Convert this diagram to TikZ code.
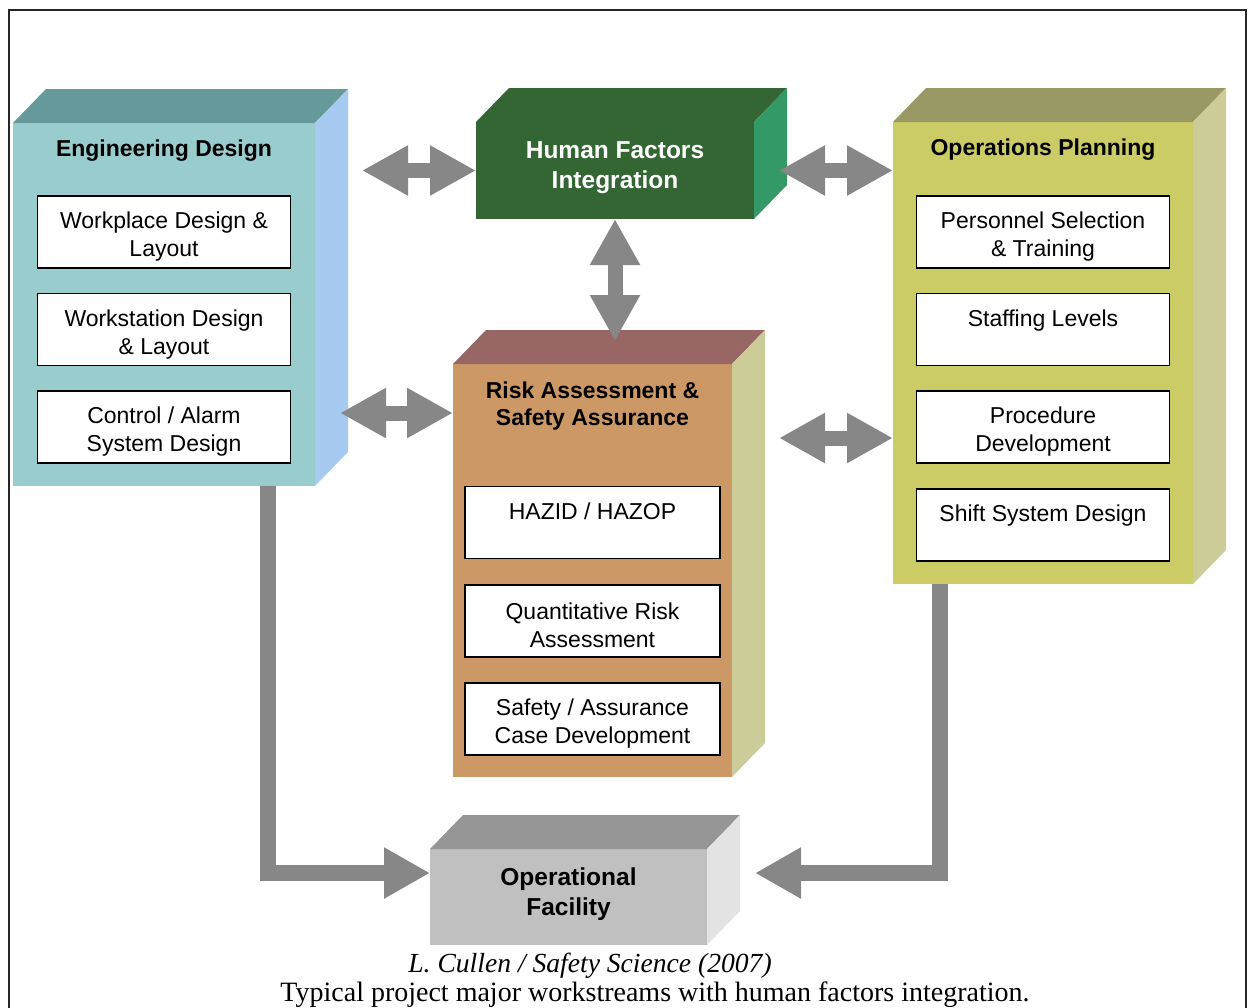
\documentclass[tikz,border=0pt]{standalone}
\usepackage{fontspec}
\setmainfont{Liberation Sans}
\newfontfamily\capfont{Liberation Serif}
\usetikzlibrary{positioning, arrows.meta}

\definecolor{edfront}{HTML}{99CCCC}
\definecolor{edtop}{HTML}{669999}
\definecolor{edside}{HTML}{A6CAF0}
\definecolor{hffront}{HTML}{336633}
\definecolor{hftop}{HTML}{336633}
\definecolor{hfside}{HTML}{339966}
\definecolor{opfront}{HTML}{CCCC66}
\definecolor{optop}{HTML}{999966}
\definecolor{opside}{HTML}{CCCC99}
\definecolor{rafront}{HTML}{CC9966}
\definecolor{ratop}{HTML}{996666}
\definecolor{raside}{HTML}{CCCC99}
\definecolor{offront}{HTML}{C0C0C0}
\definecolor{oftop}{HTML}{969696}
\definecolor{ofside}{HTML}{E3E3E3}
\definecolor{arrowgray}{HTML}{878787}

% top and right faces of a block: node, top colour, side colour
\newcommand{\blockfaces}[3]{%
	\fill[#2] (#1.north west) -- ++(33,-34) -- ([shift={(33pt,34pt)}]#1.north east) -- (#1.north east) -- cycle;
	\fill[#3] (#1.north east) -- ++(33,-34) -- ([shift={(33pt,34pt)}]#1.south east) -- (#1.south east) -- cycle;
}

\tikzset{
	block/.style={
		draw=none,
		inner sep=0pt,
		outer sep=0pt,
	},
	heading/.style={
		align=center,
		font={\fontsize{23}{27}\selectfont\bfseries},
	},
	bigtext/.style={
		align=center,
		font={\fontsize{24.5}{30}\selectfont\bfseries},
		execute at end node={\rule[-11pt]{0pt}{1pt}},
	},
	item/.style={
		draw,
		fill=white,
		line width=1.6pt,
		align=center,
		inner sep=0pt,
		text height=54pt,
		minimum width=253pt,
		minimum height=72pt,
		font={\fontsize{23}{28}\selectfont},
	},
	fatarrow/.style={
		draw=arrowgray,
		line width=15pt,
		{Triangle[width=47pt,length=46pt]}-{Triangle[width=47pt,length=46pt]},
	},
	fatline/.style={
		draw=arrowgray,
		line width=16pt,
		line join=miter,
		-{Triangle[width=48pt,length=46pt]},
	},
}

\begin{document}
\begin{tikzpicture}[x=1pt, y=-1pt]
	\useasboundingbox (0,0) rectangle (1252,1007);
	\draw[line width=1.6pt, black!85] (9,10) rectangle (1246,1020);

	% blocks
	\node(ed)[block, fill=edfront, minimum width=302pt, minimum height=363pt] at (164,304.5) {};
	\node(hf)[block, bigtext, fill=hffront, text=white, minimum width=278pt, minimum height=97pt] at (615,170.5) {Human Factors\\Integration};
	\node(op)[block, fill=opfront, minimum width=300pt, minimum height=462pt] at (1043,353) {};
	\node(ra)[block, fill=rafront, minimum width=279pt, minimum height=413pt] at (592.5,570.5) {};
	\node(of)[block, bigtext, fill=offront, minimum width=277pt, minimum height=96pt] at (568.5,897) {Operational\\Facility};

	\blockfaces{ed}{edtop}{edside}
	\blockfaces{hf}{hftop}{hfside}
	\blockfaces{op}{optop}{opside}
	\blockfaces{ra}{ratop}{raside}
	\blockfaces{of}{oftop}{ofside}

	% engineering design
	\node(edlbl)[heading] at ([yshift=-28pt]ed.north) {Engineering Design};
	\node(ed1)[item] at ([yshift=-109pt]ed.north) {Workplace Design \&\\Layout};
	\node(ed2)[item, below=24pt of ed1] {Workstation Design\\\& Layout};
	\node(ed3)[item, below=24pt of ed2] {Control / Alarm\\System Design};

	% operations planning
	\node(oplbl)[heading] at ([yshift=-28pt]op.north) {Operations Planning};
	\node(op1)[item] at ([yshift=-110pt]op.north) {Personnel Selection\\\& Training};
	\node(op2)[item, below=24pt of op1] {Staffing Levels\\[2pt]~};
	\node(op3)[item, below=24pt of op2] {Procedure\\Development};
	\node(op4)[item, below=24pt of op3] {Shift System Design\\[2pt]~};

	% risk assessment
	\node(ralbl)[heading] at ([yshift=-42pt]ra.north) {Risk Assessment \&\\Safety Assurance};
	\node(ra1)[item, minimum width=255pt] at ([yshift=-158.5pt]ra.north) {HAZID / HAZOP\\[2pt]~};
	\node(ra2)[item, minimum width=255pt, below=25pt of ra1] {Quantitative Risk\\Assessment};
	\node(ra3)[item, minimum width=255pt, below=24pt of ra2] {Safety / Assurance\\Case Development};

	% arrows
	\coordinate(raport) at ([yshift=-49pt]ra.north west);
	\coordinate(opport) at ([yshift=-316pt]op.north west);
	\coordinate(ofleft) at ([yshift=24pt]of.west);
	\coordinate(ofright) at ([xshift=48pt, yshift=24pt]of.east);

	\draw[fatarrow, shorten <=47pt] (ed.east |- hf.west) -- (hf.west);
	\draw[fatarrow, shorten <=25pt] (hf.east) -- (op.west |- hf.east);
	\draw[fatarrow, shorten >=23pt] (hf.south) -- (hf.south |- ra.north);
	\draw[fatarrow, shorten <=25pt] (ed.east |- raport) -- (raport);
	\draw[fatarrow, shorten <=47pt] (ra.east |- opport) -- (opport);
	\draw[fatline] ([xshift=104pt]ed.south) |- (ofleft);
	\draw[fatline] ([xshift=-103pt]op.south) |- (ofright);

	% caption
	\node(cite)[font={\capfont\itshape\fontsize{27.6}{30}\selectfont}] at (590,966) {L. Cullen / Safety Science (2007)};
	\node(caption)[font={\capfont\fontsize{28}{30}\selectfont}] at (655,995) {Typical project major workstreams with human factors integration.};
\end{tikzpicture}
\end{document}
